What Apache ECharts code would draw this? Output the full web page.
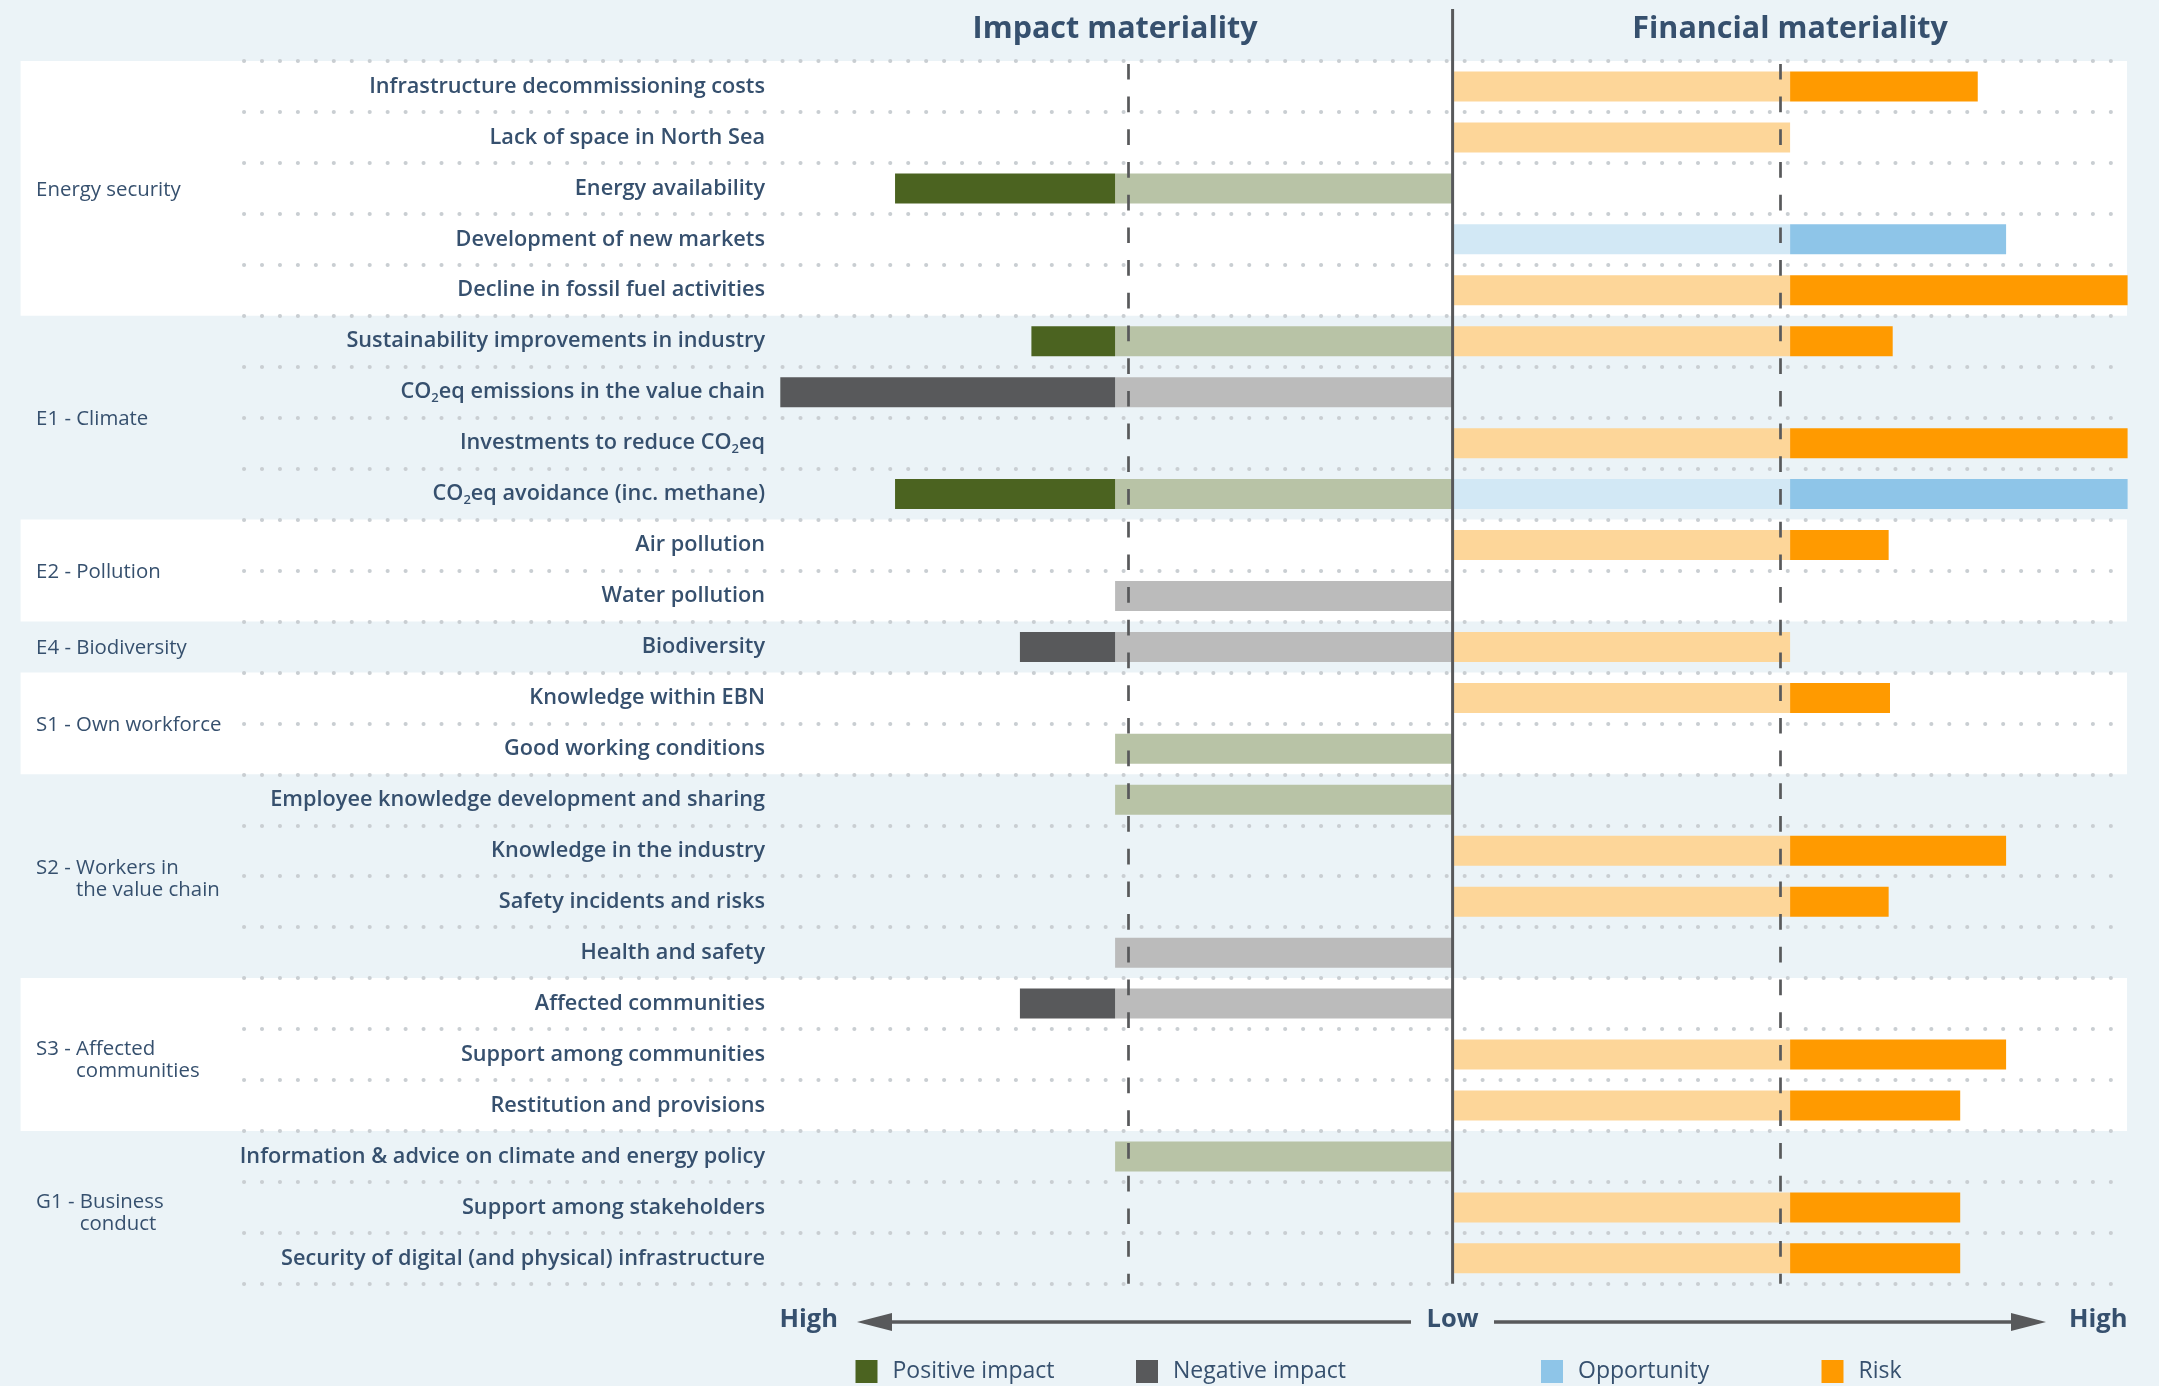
<!DOCTYPE html>
<html>
<head>
<meta charset="utf-8">
<title>Double materiality assessment</title>
<script src="https://cdn.jsdelivr.net/npm/echarts@6/dist/echarts.min.js"></script>
<style>
  html, body { margin: 0; padding: 0; background: #EBF3F7; }
  #chart { width: 2159px; height: 1386px; }
</style>
</head>
<body>
<div id="chart"></div>
<script>
// ---- Topics (top to bottom) ----
const categories = [
  'Infrastructure decommissioning costs',
  'Lack of space in North Sea',
  'Energy availability',
  'Development of new markets',
  'Decline in fossil fuel activities',
  'Sustainability improvements in industry',
  'CO2eq emissions in the value chain',
  'Investments to reduce CO2eq',
  'CO2eq avoidance (inc. methane)',
  'Air pollution',
  'Water pollution',
  'Biodiversity',
  'Knowledge within EBN',
  'Good working conditions',
  'Employee knowledge development and sharing',
  'Knowledge in the industry',
  'Safety incidents and risks',
  'Health and safety',
  'Affected communities',
  'Support among communities',
  'Restitution and provisions',
  'Information & advice on climate and energy policy',
  'Support among stakeholders',
  'Security of digital (and physical) infrastructure'
];

// ---- ESRS topic groups ----
const groupNames = [
  'Energy security',
  'E1 - Climate',
  'E2 - Pollution',
  'E4 - Biodiversity',
  'S1 - Own workforce',
  'S2 - Workers in\nthe value chain',
  'S3 - Affected\ncommunities',
  'G1 - Business\nconduct'
];
const groupFirstRow = [0, 5, 9, 11, 12, 14, 18, 21];
const groupLastRow  = [4, 8, 10, 11, 13, 17, 20, 23];

// ---- Impact materiality (score 0-100, threshold 50) ----
const impactType  = [null, null, 'pos', null, null, 'pos', 'neg', null, 'pos', null, 'neg', 'neg',
                     null, 'pos', 'pos', null, null, 'neg', 'neg', null, null, 'pos', null, null];
const impactScore = [null, null, 82.6, null, null, 62.4, 99.6, null, 82.6, null, 50, 64.1,
                     null, 50, 50, null, null, 50, 64.1, null, null, 50, null, null];

// ---- Financial materiality (score 0-100, threshold 50) ----
const finType  = ['risk', 'risk', null, 'opp', 'risk', 'risk', null, 'risk', 'opp', 'risk', null, 'risk',
                  'risk', null, null, 'risk', 'risk', null, null, 'risk', 'risk', null, 'risk', 'risk'];
const finScore = [77.8, 50, null, 82, 100, 65.2, null, 100, 100, 64.6, null, 50,
                  64.8, null, null, 82, 64.6, null, null, 82, 75.2, null, 75.2, 75.2];

const threshold = 50;
const impactCutoff = -48;     // dashed materiality cut-off, impact side
const finCutoff = 48.5;       // dashed materiality cut-off, financial side

// ---- Styling ----
const TEXT = '#36506E';
const FONT = 'Open Sans';
const COLORS = {
  posBase: '#B8C3A6', pos: '#4B6320',
  negBase: '#BBBBBB', neg: '#58595B',
  oppBase: '#D2E8F5', opp: '#8EC5E8',
  riskBase: '#FDD699', risk: '#FF9A00'
};
const TOP = 61;
const ROW_H = 50.95;
const PLOT_H = ROW_H * categories.length;

// Split each score into the part up to the threshold and the part beyond it
function basePart(types, scores, kind, sign) {
  return types.map((t, i) => (t === kind && scores[i] != null) ? sign * Math.min(scores[i], threshold) : '-');
}
function extraPart(types, scores, kind, sign) {
  return types.map((t, i) => (t === kind && scores[i] > threshold) ? sign * (scores[i] - threshold) : '-');
}

function barSeries(name, data, color) {
  return {
    name, type: 'bar', stack: 'score', xAxisIndex: 2, yAxisIndex: 2,
    barWidth: 30, data, itemStyle: { color }, silent: true
  };
}

const series = [
  // group bands and group names
  {
    type: 'custom', xAxisIndex: 0, yAxisIndex: 0, z: -10, silent: true,
    data: groupNames.map((n, i) => [0, groupFirstRow[i], groupLastRow[i], i]),
    encode: { x: 0, y: 1 },
    renderItem(params, api) {
      const idx = api.value(3);
      const p0 = api.coord([0, api.value(1)]);
      const p1 = api.coord([1, api.value(2)]);
      const h = api.size([0, 1])[1];
      const top = p0[1] - h / 2;
      const bottom = p1[1] + h / 2;
      const children = [];
      if (idx % 2 === 0) {
        children.push({
          type: 'rect',
          shape: { x: p0[0], y: top, width: p1[0] - p0[0], height: bottom - top },
          style: { fill: '#FFFFFF' }
        });
      }
      const lines = groupNames[idx].split('\n');
      const first = lines[0];
      const prefix = first.slice(0, first.indexOf('- ') + 2);
      const text = [first].concat(lines.slice(1).map(l => '{ghost|' + prefix + '}' + l)).join('\n');
      const oddRows = (api.value(2) - api.value(1)) % 2 === 0;
      children.push({
        type: 'text',
        x: p0[0] + 15.5,
        y: (top + bottom) / 2 + (lines.length > 1 ? (oddRows ? 6 : 3) : 1.5),
        style: {
          text,
          fill: TEXT,
          fontSize: 20.4,
          fontFamily: FONT,
          fontWeight: 400,
          lineHeight: 22,
          verticalAlign: 'middle',
          align: 'left',
          rich: {
            ghost: { fill: 'rgba(0,0,0,0)', fontSize: 20.4, fontFamily: FONT, fontWeight: 400, lineHeight: 22 }
          }
        }
      });
      return { type: 'group', children };
    }
  },
  barSeries('Positive impact base', basePart(impactType, impactScore, 'pos', -1), COLORS.posBase),
  barSeries('Negative impact base', basePart(impactType, impactScore, 'neg', -1), COLORS.negBase),
  barSeries('Positive impact', extraPart(impactType, impactScore, 'pos', -1), COLORS.pos),
  barSeries('Negative impact', extraPart(impactType, impactScore, 'neg', -1), COLORS.neg),
  barSeries('Opportunity base', basePart(finType, finScore, 'opp', 1), COLORS.oppBase),
  barSeries('Risk base', basePart(finType, finScore, 'risk', 1), COLORS.riskBase),
  barSeries('Opportunity', extraPart(finType, finScore, 'opp', 1), COLORS.opp),
  Object.assign(barSeries('Risk', extraPart(finType, finScore, 'risk', 1), COLORS.risk), {
    markLine: {
      silent: true,
      symbol: 'none',
      label: { show: false },
      lineStyle: { color: '#58595B', width: 2.7, type: [15.7, 17], dashOffset: 29.8 },
      data: [{ xAxis: impactCutoff }, { xAxis: finCutoff }]
    }
  })
];

function legendAt(name, left) {
  return {
    data: [name], left, top: 1360, padding: 0,
    icon: 'rect', itemWidth: 22, itemHeight: 23, selectedMode: false,
    textStyle: { color: TEXT, fontSize: 23, fontWeight: 500, fontFamily: FONT, padding: [12, 0, 0, 10] }
  };
}

const labelRich = {
  sub: { fontSize: 13, lineHeight: 8, verticalAlign: 'bottom', fontFamily: FONT, fontWeight: 600, color: TEXT }
};

const chart = echarts.init(document.getElementById('chart'), null, { renderer: 'canvas' });

chart.setOption({
  animation: false,
  backgroundColor: '#EBF3F7',
  grid: [
    { left: 20.6, right: 32, top: TOP, height: PLOT_H },
    { left: 244, right: 32, top: TOP, height: PLOT_H },
    { left: 777.6, right: 31.4, top: TOP, height: PLOT_H }
  ],
  xAxis: [
    { gridIndex: 0, type: 'value', min: 0, max: 1, show: false },
    { gridIndex: 1, type: 'value', min: 0, max: 1, show: false },
    { gridIndex: 2, type: 'value', min: -100, max: 100, show: false }
  ],
  yAxis: [
    { gridIndex: 0, type: 'category', data: categories, inverse: true, show: false },
    {
      gridIndex: 1, type: 'category', data: categories, inverse: true,
      axisLine: { show: false }, axisTick: { show: false }, axisLabel: { show: false },
      splitLine: { show: true, interval: 0, lineStyle: { color: '#C9CED2', width: 4, type: [0.1, 17.85], cap: 'round' } }
    },
    {
      gridIndex: 2, type: 'category', data: categories, inverse: true,
      axisLine: { show: false }, axisTick: { show: false }, splitLine: { show: false },
      axisLabel: {
        interval: 0, margin: 12.6, color: TEXT, fontSize: 21.7, fontWeight: 600, fontFamily: FONT,
        lineHeight: 26, rich: labelRich,
        formatter: v => v.replace(/CO2eq/g, 'CO{sub|2}eq')
      }
    }
  ],
  legend: [
    legendAt('Positive impact', 855.5),
    legendAt('Negative impact', 1136),
    legendAt('Opportunity', 1541),
    legendAt('Risk', 1821.5)
  ],
  series
});

// Panel titles, centre axis and the High/Low scale drawn around the plot
const cx = chart.convertToPixel({ xAxisIndex: 2 }, 0);
const impactX = chart.convertToPixel({ xAxisIndex: 2 }, -threshold);
const finX = chart.convertToPixel({ xAxisIndex: 2 }, threshold);
const AX = '#58595B';
const scaleY = 1322;
const titleFont = { fontFamily: FONT, fontWeight: 'bold', fontSize: 30.5, fill: TEXT };
const scaleFont = { fontFamily: FONT, fontWeight: 'bold', fontSize: 25.5, fill: TEXT };

chart.setOption({
  graphic: [
    { type: 'text', x: impactX, y: 29, z: 10, style: Object.assign({ text: 'Impact materiality', align: 'center', verticalAlign: 'middle' }, titleFont) },
    { type: 'text', x: finX, y: 29, z: 10, style: Object.assign({ text: 'Financial materiality', align: 'center', verticalAlign: 'middle' }, titleFont) },
    { type: 'line', z: 10, shape: { x1: cx, y1: 9, x2: cx, y2: TOP + PLOT_H }, style: { stroke: AX, lineWidth: 3 } },
    { type: 'text', x: 838, y: scaleY - 2, z: 10, style: Object.assign({ text: 'High', align: 'right', verticalAlign: 'middle' }, scaleFont) },
    { type: 'line', z: 10, shape: { x1: 890, y1: scaleY, x2: 1411, y2: scaleY }, style: { stroke: AX, lineWidth: 3.5 } },
    { type: 'polygon', z: 10, shape: { points: [[857, scaleY], [892, scaleY - 9], [892, scaleY + 9]] }, style: { fill: AX } },
    { type: 'text', x: cx, y: scaleY - 2, z: 10, style: Object.assign({ text: 'Low', align: 'center', verticalAlign: 'middle' }, scaleFont) },
    { type: 'line', z: 10, shape: { x1: 1494, y1: scaleY, x2: 2013, y2: scaleY }, style: { stroke: AX, lineWidth: 3.5 } },
    { type: 'polygon', z: 10, shape: { points: [[2046, scaleY], [2011, scaleY - 9], [2011, scaleY + 9]] }, style: { fill: AX } },
    { type: 'text', x: 2069, y: scaleY - 2, z: 10, style: Object.assign({ text: 'High', align: 'left', verticalAlign: 'middle' }, scaleFont) }
  ]
});
</script>
</body>
</html>
